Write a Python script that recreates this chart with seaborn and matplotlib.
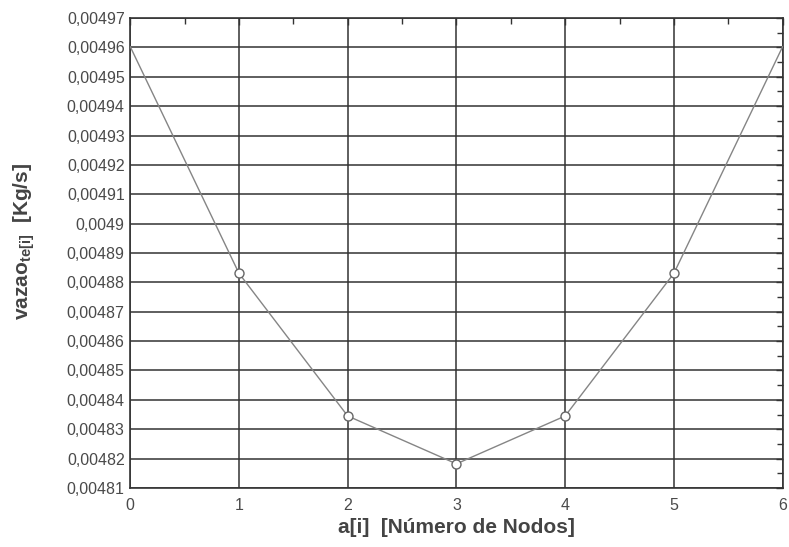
import matplotlib
matplotlib.use("Agg")
import matplotlib.pyplot as plt
import seaborn as sns
import pandas as pd
from matplotlib.ticker import MultipleLocator, FuncFormatter

nodes = [0, 1, 2, 3, 4, 5, 6]
vazao = [0.0049603, 0.0048831, 0.0048345, 0.0048182, 0.0048345, 0.0048831, 0.0049603]
marked = [False, True, True, True, True, True, False]

df = pd.DataFrame({"a": nodes, "v": vazao, "m": marked})

sns.set_theme(style="white")
plt.rcParams['font.family'] = ['Liberation Sans', 'DejaVu Sans']
plt.rcParams['mathtext.fontset'] = 'custom'
plt.rcParams['mathtext.rm'] = 'Liberation Sans'
plt.rcParams['mathtext.bf'] = 'Liberation Sans:bold'

fig = plt.figure(figsize=(7.89, 5.47), dpi=100)
ax = fig.add_axes([0.165, 0.108, 0.827, 0.859])

sns.lineplot(data=df, x="a", y="v", ax=ax, color="#858585", lw=1.0, zorder=3)
sns.scatterplot(data=df[df.m], x="a", y="v", ax=ax, marker="o", s=42,
                facecolor="white", edgecolor="#666666", linewidth=1.0, zorder=4)

ax.set_xlim(0, 6)
ax.set_ylim(0.00481, 0.00497)
ax.xaxis.set_major_locator(MultipleLocator(1))
ax.xaxis.set_minor_locator(MultipleLocator(0.5))
ax.yaxis.set_major_locator(MultipleLocator(0.00001))
ax.yaxis.set_minor_locator(MultipleLocator(0.000005))

def yfmt(v, pos):
    s = f"{v:.5f}".rstrip("0")
    return s.replace(".", ",")
ax.yaxis.set_major_formatter(FuncFormatter(yfmt))

ax.grid(True, which="major", color="#333333", lw=1.1)
ax.set_axisbelow(True)
for sp in ax.spines.values():
    sp.set_color("#333333")
    sp.set_linewidth(1.2)
ax.tick_params(which="both", direction="in", top=True, right=True, colors="#333333",
               labelcolor="#4a4a4a", labelsize=11.5)
ax.tick_params(which="major", length=5, width=1)
ax.tick_params(which="minor", length=4, width=1)
ax.tick_params(axis="x", pad=7)
ax.tick_params(axis="y", pad=4)

ax.set_xlabel("a[i]  [Número de Nodos]", fontsize=15, fontweight="bold", color="#444444", labelpad=4)
ax.set_ylabel(r"vazao$_{\mathbf{te[i]}}$  [Kg/s]", fontsize=15, fontweight="bold", color="#444444")
ax.yaxis.set_label_coords(-0.143, 0.525)

fig.savefig("out.png", dpi=100)
